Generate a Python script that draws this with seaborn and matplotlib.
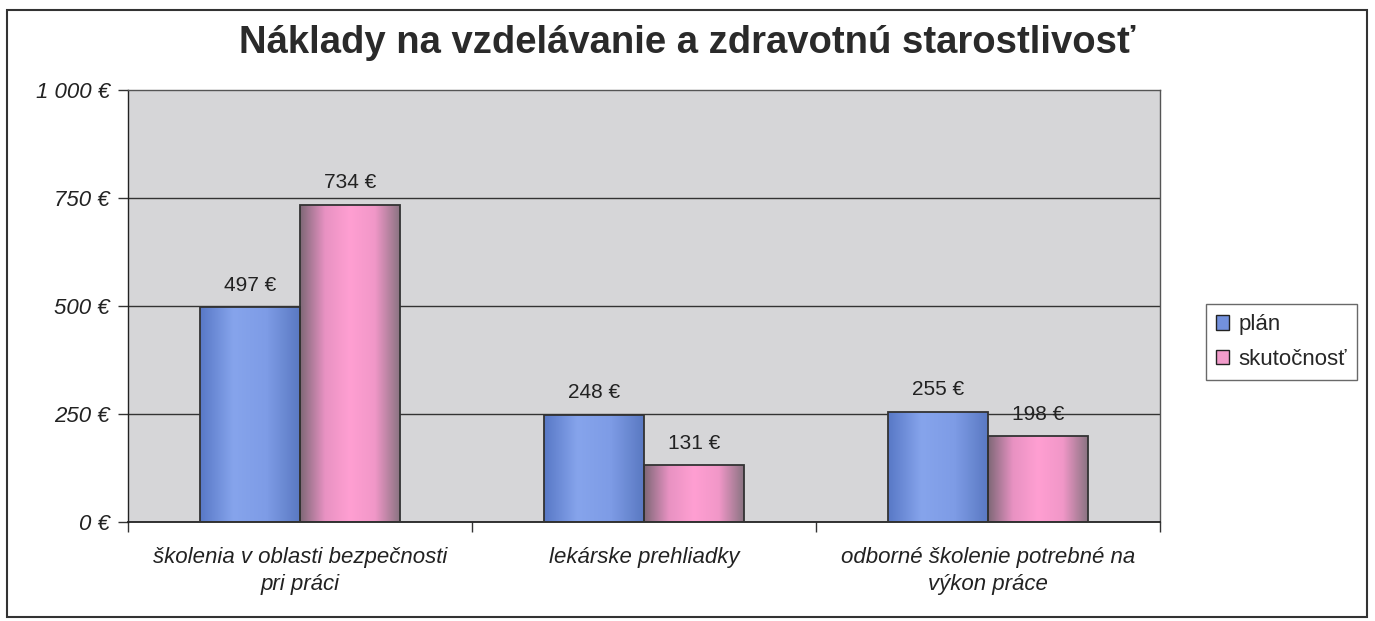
import numpy as np
import pandas as pd
import matplotlib
matplotlib.use("Agg")
import matplotlib.pyplot as plt
from matplotlib.patches import Rectangle, Patch
from matplotlib.colors import LinearSegmentedColormap
import seaborn as sns

# ---- data ----
categories = ["školenia v oblasti bezpečnosti\npri práci",
              "lekárske prehliadky",
              "odborné školenie potrebné na\nvýkon práce"]
plan = [497, 248, 255]
skutocnost = [734, 131, 198]
series = ["plán", "skutočnosť"]
yticks = [0, 250, 500, 750, 1000]
ytick_labels = ["0 €", "250 €", "500 €", "750 €", "1 000 €"]
title = "Náklady na vzdelávanie a zdravotnú starostlivosť"

df = pd.DataFrame({
    "kategoria": categories * 2,
    "hodnota": plan + skutocnost,
    "typ": [series[0]] * 3 + [series[1]] * 3,
})

sns.set_theme(style="white")
plt.rcParams["font.family"] = ["Liberation Sans", "DejaVu Sans"]

fig = plt.figure(figsize=(13.75, 6.21), dpi=100)
ax = fig.add_axes([128/1375, 1-522/621, (1160-128)/1375, (522-90)/621])

blue = "#7391dd"
pink = "#f29ccb"
sns.barplot(data=df, x="kategoria", y="hodnota", hue="typ", palette=[blue, pink],
            width=0.58, edgecolor="#333333", linewidth=1.3, ax=ax, zorder=3)
if ax.get_legend() is not None:
    ax.get_legend().remove()

ax.set_facecolor("#d6d6d8")
ax.set_ylim(0, 1000)
ax.set_xlim(-0.5, 2.5)
ax.set_yticks(yticks)
ax.set_yticklabels(ytick_labels, fontsize=16, style="italic", color="#222222")
ax.set_xlabel("")
ax.set_ylabel("")
ax.set_xticks([0, 1, 2])
ax.set_xticklabels(categories, fontsize=16, style="italic", color="#222222",
                   linespacing=1.4)
ax.tick_params(axis="x", length=0, pad=18)
ax.tick_params(axis="y", length=7, width=1, color="#333333", pad=6, left=True)

# ticks at category boundaries on x axis
ax.set_xticks([-0.5, 0.5, 1.5, 2.5], minor=True)
ax.tick_params(axis="x", which="minor", length=7, width=1, color="#333333", bottom=True)

for y in [250, 500, 750]:
    ax.axhline(y, color="#333333", lw=1.0, zorder=1)
for s in ax.spines.values():
    s.set_visible(True)
    s.set_color("#555555")
    s.set_linewidth(1.0)
ax.spines["bottom"].set_color("#222222")
ax.spines["bottom"].set_linewidth(1.3)
ax.spines["left"].set_color("#222222")

# gradient fill on bars
grad_blue = LinearSegmentedColormap.from_list("gb", ["#5878c6", "#86a4ec", "#7e9ce6", "#5a79c2"])
grad_pink = LinearSegmentedColormap.from_list("gp", ["#7e6877", "#e892c2", "#ff9fd2", "#f197c8", "#8a7482"])
grad = np.linspace(0, 1, 256).reshape(1, -1)
for cont, cmap in zip(ax.containers, [grad_blue, grad_pink]):
    for bar in cont:
        x0, w, h = bar.get_x(), bar.get_width(), bar.get_height()
        im = ax.imshow(grad, cmap=cmap, aspect="auto", extent=[x0, x0 + w, 0, h],
                       zorder=2.5, interpolation="bicubic")
        im.set_clip_path(bar)
        bar.set_facecolor("none")
    ax.bar_label(cont, labels=[f"{int(v)} €" for v in cont.datavalues],
                 padding=9, fontsize=15, color="#222222")
ax.set_xlim(-0.5, 2.5)
ax.set_ylim(0, 1000)

fig.suptitle(title, x=(235+1140)/2/1375, y=1-43/621, va="center",
             fontsize=27.5, fontweight="bold", color="#2a2a2a")

# legend
handles = [Patch(facecolor=blue, edgecolor="#222222"),
           Patch(facecolor=pink, edgecolor="#222222")]
leg = fig.legend(handles, series, loc="center left",
                 bbox_to_anchor=(1206/1375, 1-342/621), fontsize=16,
                 frameon=True, fancybox=False, edgecolor="#444444",
                 handlelength=0.6, handleheight=0.6, handletextpad=0.4,
                 borderpad=0.45, labelspacing=0.6, borderaxespad=0)
leg.get_frame().set_linewidth(1.0)

# outer chart border
fig.patches.append(Rectangle((7/1375, 4/621), 1360/1375, 607/621, transform=fig.transFigure,
                             fill=False, edgecolor="#333333", lw=1.5))

fig.savefig("out.png", dpi=100, facecolor="white")
